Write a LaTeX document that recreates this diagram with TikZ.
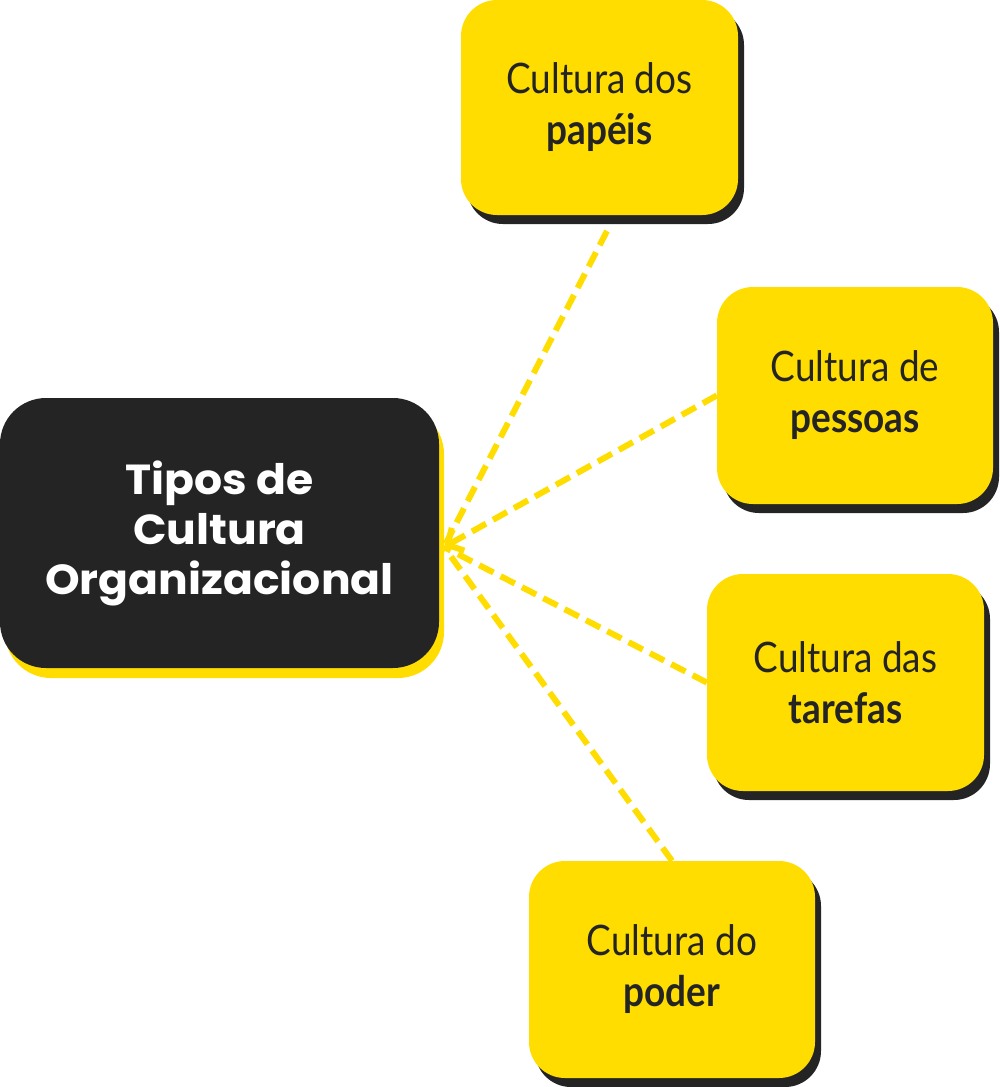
\documentclass[tikz,border=0pt]{standalone}
\usepackage{fontspec}
\usetikzlibrary{shadows,arrows.meta}
\newfontfamily\condf[FakeStretch=0.88]{Lato}
\newfontfamily\widef[FakeStretch=1.05]{Poppins}
\definecolor{cyel}{HTML}{FFDD00}
\definecolor{cdark}{HTML}{242424}
\begin{document}
\begin{tikzpicture}[x=1pt,y=-1pt,
  topic/.style={fill=cyel, rounded corners=36pt, inner sep=0pt, align=center,
    text=cdark, font=\condf\fontsize{42}{51}\selectfont,
    drop shadow={shadow xshift=6pt, shadow yshift=-9pt, fill=cdark, opacity=1}},
  hubbox/.style={fill=cdark, rounded corners=46pt, inner sep=0pt, align=center,
    text=white, font=\widef\bfseries\fontsize{42}{50}\selectfont,
    minimum width=439pt, minimum height=270pt,
    drop shadow={shadow xshift=5pt, shadow yshift=-10pt, fill=cyel, opacity=1}},
  conn/.style={draw=cyel, line width=6pt, dash pattern=on 16pt off 8pt}
]
\useasboundingbox (0,0) rectangle (1000,1087);
\node[hubbox] (hub) at (219.5,533) {Tipos de\\Cultura\\Organizacional};
\node[topic, minimum width=277pt, minimum height=215pt] (p1) at (599.5,107.5) {Cultura dos\\\textbf{papéis}};
\node[topic, minimum width=276pt, minimum height=217pt] (p2) at (855,395.5) {Cultura de\\\textbf{pessoas}};
\node[topic, minimum width=277pt, minimum height=217pt] (p3) at (845.5,682.5) {Cultura das\\\textbf{tarefas}};
\node[topic, minimum width=286pt, minimum height=217pt] (p4) at (672,969.5) {Cultura do\\\textbf{poder}};
\coordinate (tip) at (444,547);
\coordinate (e1) at (607,231);
\draw[conn] (e1) -- (tip);
\draw[conn, -{Straight Barb[length=12pt,width=26pt]}] (p2.west) -- (tip);
\draw[conn] (p3.west) -- (tip);
\draw[conn] (p4.north) -- (tip);
\end{tikzpicture}
\end{document}
